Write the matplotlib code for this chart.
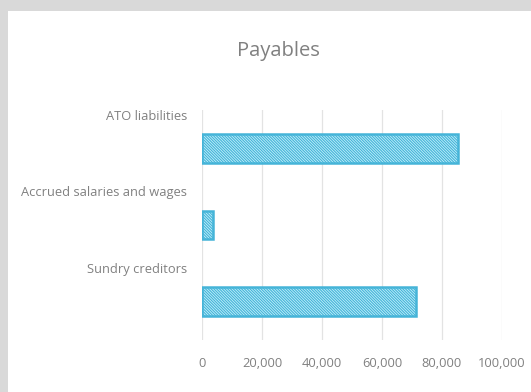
import matplotlib.pyplot as plt
from matplotlib.patches import Rectangle
from matplotlib.ticker import FuncFormatter

categories = ["ATO liabilities", "Accrued salaries and wages", "Sundry creditors"]
values = [85200, 3700, 71200]
xticks = [0, 20000, 40000, 60000, 80000, 100000]

plt.rcParams['font.family'] = ['Open Sans', 'DejaVu Sans']
plt.rcParams['hatch.color'] = '#4fc0e2'
plt.rcParams['hatch.linewidth'] = 0.8

W, H = 531, 392
fig = plt.figure(figsize=(W / 100, H / 100), dpi=100, facecolor='#d9d9d9')
# white chart panel inside the grey frame
fig.patches.append(Rectangle((8 / W, 0), 1, (H - 11) / H, transform=fig.transFigure,
                             facecolor='white', edgecolor='none', zorder=-10))

ax = fig.add_axes([202 / W, (H - 340) / H, 300 / W, 230 / H])
ax.set_facecolor('none')

pos = list(range(len(categories)))
ax.barh(pos, values, height=0.37, color='#c2f0fc', edgecolor='#45b4d8',
        linewidth=1.8, hatch='\\' * 12, zorder=3)

ax.set_ylim(len(categories) - 0.5, -0.5)
ax.set_xlim(0, 100000)
ax.set_xticks(xticks)
ax.xaxis.set_major_formatter(FuncFormatter(lambda v, p: f"{int(v):,}"))
ax.tick_params(axis='x', length=0, pad=12, labelsize=9.3, labelcolor='#808080')
ax.set_yticks([])
ax.grid(axis='x', color='#e3e3e3', linewidth=0.9, zorder=0)
for s in ax.spines.values():
    s.set_visible(False)

# category labels sit near the top of each band
for i, name in enumerate(categories):
    ax.text(-0.05, i - 0.42, name, transform=ax.get_yaxis_transform(),
            ha='right', va='center', fontsize=9.3, color='#808080')

fig.text(278 / W, (H - 51) / H, "Payables", ha='center', va='center',
         fontsize=14.5, color='#808080')

fig.savefig('out.png', dpi=100, facecolor=fig.get_facecolor())
